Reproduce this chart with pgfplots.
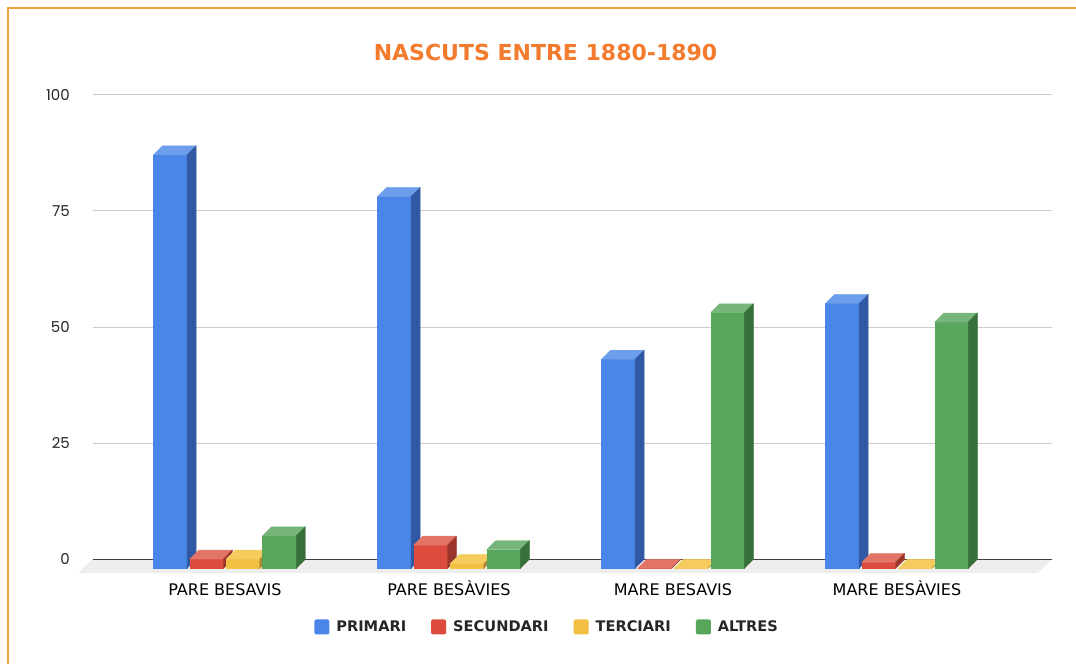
\documentclass[border=0pt]{standalone}
\usepackage{pgfplots}
\pgfplotsset{compat=1.18}
\usepackage{fontspec}
\setmainfont{DejaVu Sans}
\newfontfamily\tickfont{Poppins}
\definecolor{bluF}{HTML}{4A86E8}\definecolor{bluT}{HTML}{6D9EEB}\definecolor{bluS}{HTML}{3158A3}
\definecolor{redF}{HTML}{DB4C3F}\definecolor{redT}{HTML}{E37567}\definecolor{redS}{HTML}{9B352C}
\definecolor{yelF}{HTML}{F4C043}\definecolor{yelT}{HTML}{F6CC5F}\definecolor{yelS}{HTML}{AC862F}
\definecolor{grnF}{HTML}{57A65B}\definecolor{grnT}{HTML}{76B67A}\definecolor{grnS}{HTML}{37703A}
\definecolor{titleC}{HTML}{F27B2E}
\definecolor{borderC}{HTML}{F6A23C}
\definecolor{floorC}{HTML}{EEEEEE}
\pgfdeclareplotmark{emptymark}{}
\pgfplotsset{
  box3d/.style n args={4}{
    only marks, mark=emptymark, scatter, forget plot,
    visualization depends on={rawy \as \rawy},
    scatter/@pre marker code/.code={%
      \pgfmathsetmacro\bxH{\rawy*4.646}%
      \pgfmathsetmacro\bxL{#1-16.8}%
      \pgfmathsetmacro\bxR{#1+16.8}%
      \fill[#2] (\bxL pt,{-(9+\bxH)*1pt}) rectangle (\bxR pt,-9pt);
      \fill[#3] (\bxL pt,-9pt) -- (\bxR pt,-9pt) -- ({(\bxR+9)*1pt},0pt) -- ({(\bxL+9)*1pt},0pt) -- cycle;
      \fill[#4] (\bxR pt,-9pt) -- ({(\bxR+9)*1pt},0pt) -- ({(\bxR+9)*1pt},{-\bxH*1pt}) -- (\bxR pt,{-(9+\bxH)*1pt}) -- cycle;
    },
    scatter/@post marker code/.code={},
  }
}
\begin{document}
\begin{tikzpicture}[x=1pt,y=1pt]
\useasboundingbox (0,0) rectangle (1076,664);
\fill[white] (0,0) rectangle (1076,664);
\draw[borderC, line width=1.4pt] (8,0) -- (8,656) -- (1076,656);
\node[titleC, font=\bfseries\fontsize{22}{26}\selectfont] at (545.5,611.2) {NASCUTS ENTRE 1880-1890};
\begin{axis}[
  at={(92.5pt,104.7pt)}, anchor=south west, scale only axis,
  width=959pt, height=464.6pt,
  xmin=-0.591, xmax=3.69, ymin=0, ymax=100,
  clip=false,
  axis line style={draw=none},
  major tick length=0pt,
  ytick={0,25,50,75,100},
  /pgf/number format/assume math mode=true,
  ymajorgrids, grid style={draw=black!20, line width=0.9pt},
  yticklabel style={font=\tickfont\fontsize{15}{18}\selectfont, anchor=east, inner sep=0pt, xshift=-22.5pt, text=black!85},
  xtick={0,1,2,3},
  xticklabels={PARE BESAVIS, PARE BESÀVIES, MARE BESAVIS, MARE BESÀVIES},
  xticklabel style={font=\fontsize{16}{19}\selectfont, anchor=base, inner sep=0pt, yshift=-35.7pt, text=black},
  legend columns=4,
  legend style={at={(axis description cs:0.474,-0.1457)}, anchor=center, draw=none, fill=none,
    font=\bfseries\fontsize{14.6}{17}\selectfont, text=black!85,
    /tikz/every even column/.append style={column sep=23pt},
    /tikz/every odd column/.append style={column sep=5pt}},
  legend image code/.code={\fill[#1, draw=none, rounded corners=1.5pt] (0pt,-7.5pt) rectangle (15pt,7.5pt);},
]
\fill[floorC] (rel axis cs:0,0) -- (rel axis cs:1,0) -- ([shift={(-13.7pt,-13.7pt)}]rel axis cs:1,0) -- ([shift={(-13.7pt,-13.7pt)}]rel axis cs:0,0) -- cycle;
\draw[black!75, line width=1.2pt] (rel axis cs:0,0) -- (rel axis cs:1,0);
% PRIMARI
\addplot[box3d={-54.6}{bluF}{bluT}{bluS}] coordinates {(0,89) (1,80) (2,45) (3,57)};
% SECUNDARI
\addplot[box3d={-18.2}{redF}{redT}{redS}] coordinates {(0,2) (1,5) (2,0) (3,1.3)};
% TERCIARI
\addplot[box3d={18.2}{yelF}{yelT}{yelS}] coordinates {(0,2) (1,1) (2,0) (3,0)};
% ALTRES
\addplot[box3d={54.6}{grnF}{grnT}{grnS}] coordinates {(0,7) (1,4) (2,55) (3,53)};
\addlegendimage{fill=bluF, draw=none}\addlegendentry{PRIMARI}
\addlegendimage{fill=redF, draw=none}\addlegendentry{SECUNDARI}
\addlegendimage{fill=yelF, draw=none}\addlegendentry{TERCIARI}
\addlegendimage{fill=grnF, draw=none}\addlegendentry{ALTRES}
\end{axis}
\end{tikzpicture}
\end{document}
